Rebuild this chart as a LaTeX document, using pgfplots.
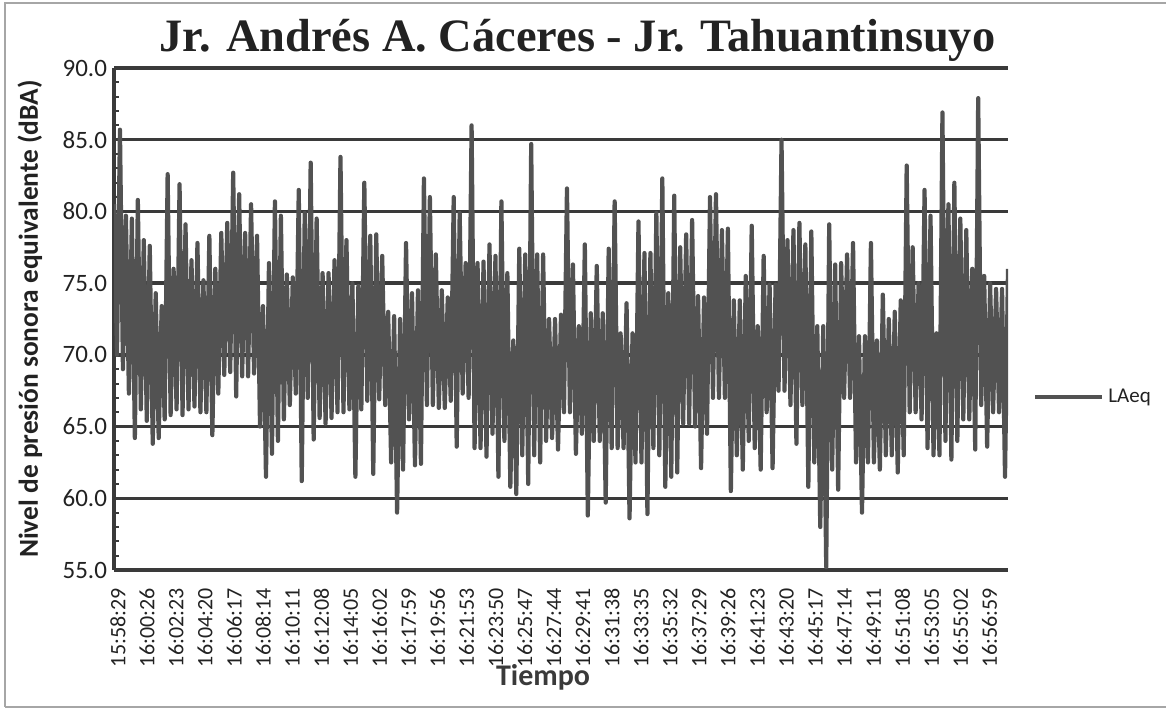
\documentclass[border=0pt]{standalone}
\usepackage{fontspec}
\setmainfont{Carlito}
\newfontfamily\titlefont{Liberation Serif}
\usepackage{pgfplots}
\pgfplotsset{compat=1.18}
\definecolor{gridc}{HTML}{3A3A3A}
\definecolor{series}{HTML}{525252}
\definecolor{txt}{HTML}{222222}
\begin{document}
\begin{tikzpicture}
\path[use as bounding box] (0,0) rectangle (583pt,355.5pt);
\draw[gray!70, line width=0.6pt] (2.5pt,2pt) -- (2.5pt,354pt) -- (590pt,354pt);
\draw[gray!70, line width=0.6pt] (2.5pt,2pt) -- (590pt,2pt);
\begin{axis}[
  at={(57pt,70.5pt)}, anchor=south west,
  scale only axis, width=447pt, height=251pt,
  xmin=0, xmax=3600, ymin=55, ymax=90,
  axis x line*=bottom, axis y line*=left,
  axis line style={-, line width=1.7pt, gridc},
  ytick={55,60,...,90},
  minor y tick num=4,
  ymajorgrids,
  major grid style={line width=1.7pt, gridc},
  tick align=inside,
  y tick style={line width=1pt, gridc},
  major tick length=2.5pt, minor tick length=2.5pt,
  x tick style={draw=none},
  xtick={16,133,...,3526},
  xticklabels={15:58:29,16:00:26,16:02:23,16:04:20,16:06:17,16:08:14,16:10:11,16:12:08,16:14:05,16:16:02,16:17:59,16:19:56,16:21:53,16:23:50,16:25:47,16:27:44,16:29:41,16:31:38,16:33:35,16:35:32,16:37:29,16:39:26,16:41:23,16:43:20,16:45:17,16:47:14,16:49:11,16:51:08,16:53:05,16:55:02,16:56:59},
  xticklabel style={rotate=90, anchor=east, inner sep=0pt, font=\fontsize{11}{13}\selectfont, text=txt},
  xticklabel shift=9pt,
  yticklabel style={font=\fontsize{12.5}{14}\selectfont, text=txt},
  /pgf/number format/.cd, fixed, fixed zerofill, precision=1, assume math mode=true,
  /pgfplots/.cd,
  title={\titlefont\bfseries Jr. Andrés A. Cáceres - Jr. Tahuantinsuyo},
  title style={at={(axis description cs:0.5,1)}, anchor=base, inner sep=0pt, xshift=8.25pt, yshift=2pt, font=\fontsize{23.2}{27}\selectfont, text=txt},
  ylabel={Nivel de presión sonora equivalente (dBA)},
  ylabel style={at={(axis description cs:-0.094,0.5)}, anchor=center, font=\bfseries\fontsize{13.7}{15}\selectfont, text=txt},
  xlabel={Tiempo},
  xlabel style={at={(axis description cs:0.48,0)}, anchor=center, yshift=-53.5pt, font=\bfseries\fontsize{15}{17}\selectfont, text=gridc},
  legend style={at={(axis description cs:1,0.345)}, anchor=west, xshift=12.5pt, draw=none, fill=none, inner sep=0pt, font=\fontsize{10.5}{12}\selectfont, text=txt},
  legend cell align=left,
]
\addplot[color=series, line width=2.1pt, line join=round, no markers,
  legend image code/.code={\draw[line width=2pt, series] (0pt,0pt) -- (33.5pt,0pt);}]
coordinates {
(0,80.5)(12,70.0)(24,85.7)(36,69.0)(48,79.7)(60,67.3)(72,79.5)(84,64.2)(96,80.8)(108,66.2)
(120,78.0)(132,65.4)(144,77.6)(156,63.8)(168,74.3)(180,64.2)(192,73.4)(204,65.5)(216,82.6)(228,65.8)
(240,76.0)(252,66.2)(264,81.9)(276,65.8)(288,79.1)(300,66.2)(312,76.6)(324,66.4)(336,77.8)(348,66.0)
(360,75.2)(372,66.0)(384,78.3)(396,64.4)(408,76.0)(420,67.3)(432,78.5)(444,68.6)(456,79.2)(468,68.8)
(480,82.7)(492,67.1)(504,81.2)(516,68.5)(528,78.5)(540,68.5)(552,80.5)(564,68.7)(576,78.3)(588,65.0)
(600,73.4)(612,61.5)(624,76.4)(636,63.1)(648,80.7)(660,64.0)(672,79.7)(684,65.5)(696,75.6)(708,66.5)
(720,75.4)(732,67.3)(744,81.5)(756,61.2)(768,79.9)(780,67.0)(792,83.4)(804,64.1)(816,79.5)(828,65.6)
(840,75.7)(852,65.2)(864,75.7)(876,65.6)(888,76.6)(900,66.0)(912,83.8)(924,66.0)(936,78.0)(948,66.2)
(960,75.0)(972,61.5)(984,74.8)(996,66.2)(1008,82.0)(1020,66.8)(1032,78.3)(1044,61.7)(1056,78.4)(1068,66.9)
(1080,76.9)(1092,66.5)(1104,73.0)(1116,62.5)(1128,72.7)(1140,59.0)(1152,72.5)(1164,62.0)(1176,77.8)(1188,65.5)
(1200,74.3)(1212,62.3)(1224,74.5)(1236,62.4)(1248,82.3)(1260,66.5)(1272,81.0)(1284,66.5)(1296,77.0)(1308,66.3)
(1320,74.5)(1332,66.3)(1344,74.0)(1356,66.8)(1368,81.0)(1380,63.6)(1392,79.9)(1404,67.3)(1416,76.4)(1428,67.0)
(1440,86.0)(1452,63.5)(1464,76.4)(1476,63.5)(1488,76.5)(1500,62.9)(1512,77.7)(1524,64.5)(1536,76.9)(1548,61.5)
(1560,80.7)(1572,64.0)(1584,75.7)(1596,60.8)(1608,71.0)(1620,60.3)(1632,77.4)(1644,63.0)(1656,77.0)(1668,61.0)
(1680,84.7)(1692,63.0)(1704,77.0)(1716,62.5)(1728,77.0)(1740,64.0)(1752,72.5)(1764,64.2)(1776,72.5)(1788,63.4)
(1800,72.8)(1812,66.0)(1824,81.6)(1836,66.0)(1848,76.3)(1860,63.1)(1872,72.0)(1884,64.5)(1896,77.7)(1908,58.8)
(1920,72.9)(1932,64.0)(1944,76.2)(1956,64.0)(1968,72.9)(1980,59.7)(1992,77.4)(2004,63.5)(2016,80.7)(2028,63.5)
(2040,71.5)(2052,63.5)(2064,73.6)(2076,58.6)(2088,71.5)(2100,62.5)(2112,79.3)(2124,62.5)(2136,77.1)(2148,58.9)
(2160,77.1)(2172,63.5)(2184,79.9)(2196,63.0)(2208,82.3)(2220,60.8)(2232,74.3)(2244,61.5)(2256,81.1)(2268,61.8)
(2280,77.5)(2292,65.2)(2304,78.4)(2316,65.2)(2328,79.4)(2340,65.0)(2352,74.1)(2364,62.1)(2376,74.0)(2388,64.5)
(2400,81.0)(2412,67.0)(2424,81.2)(2436,67.0)(2448,78.7)(2460,67.0)(2472,78.8)(2484,60.5)(2496,73.8)(2508,63.0)
(2520,73.8)(2532,62.0)(2544,75.5)(2556,64.0)(2568,79.0)(2580,63.5)(2592,72.0)(2604,62.0)(2616,76.9)(2628,66.0)
(2640,74.9)(2652,62.1)(2664,74.9)(2676,67.5)(2688,85.0)(2700,67.5)(2712,78.0)(2724,66.5)(2736,78.7)(2748,63.8)
(2760,79.2)(2772,66.5)(2784,77.7)(2796,60.8)(2808,78.6)(2820,62.5)(2832,72.0)(2844,58.0)(2856,72.0)(2868,55.2)
(2880,79.1)(2892,62.0)(2904,76.3)(2916,60.6)(2928,76.4)(2940,67.0)(2952,77.0)(2964,67.0)(2976,77.8)(2988,62.5)
(3000,71.3)(3012,59.0)(3024,71.3)(3036,62.5)(3048,77.8)(3060,62.5)(3072,71.0)(3084,62.0)(3096,74.2)(3108,63.0)
(3120,72.5)(3132,63.0)(3144,73.0)(3156,61.8)(3168,73.8)(3180,63.0)(3192,83.2)(3204,66.0)(3216,77.5)(3228,66.0)
(3240,75.0)(3252,65.5)(3264,81.5)(3276,63.5)(3288,79.7)(3300,63.0)(3312,71.5)(3324,63.0)(3336,86.9)(3348,64.0)
(3360,80.5)(3372,62.7)(3384,82.0)(3396,64.0)(3408,79.5)(3420,65.5)(3432,78.7)(3444,65.5)(3456,76.0)(3468,63.4)
(3480,87.9)(3492,66.5)(3504,75.5)(3516,63.6)(3528,75.0)(3540,66.0)(3552,74.6)(3564,66.0)(3576,74.6)(3588,61.5)
(3600,76.0)
};
\addlegendentry{LAeq}
\end{axis}
\end{tikzpicture}
\end{document}
